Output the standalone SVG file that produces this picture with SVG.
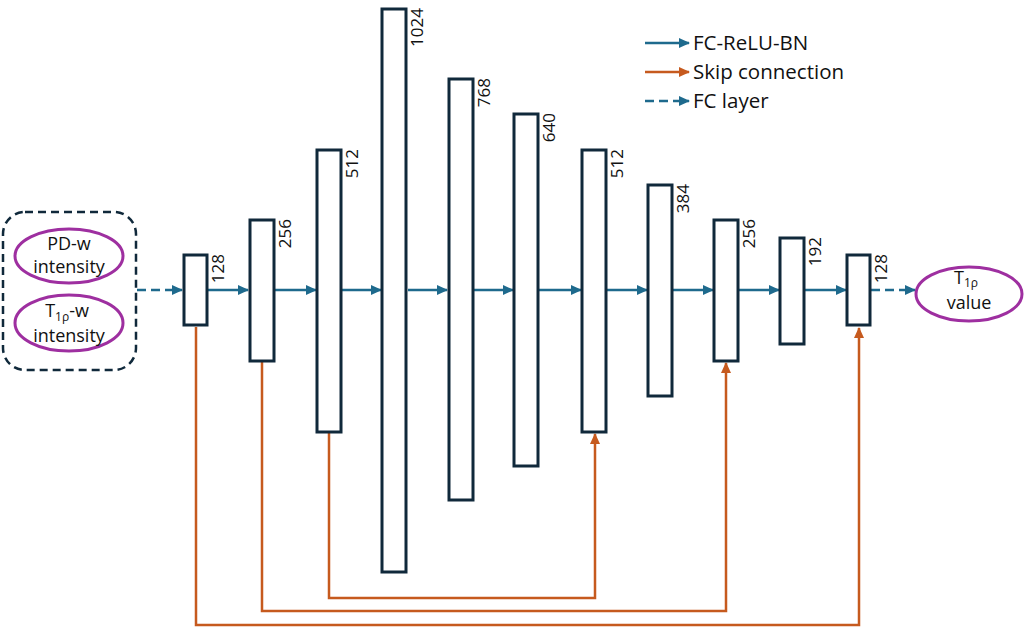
<svg xmlns="http://www.w3.org/2000/svg" width="1024" height="627" viewBox="0 0 1024 627">
<defs>
<style>
.bar{fill:#fff;stroke:#10293b;stroke-width:3}
.lbl{font-family:"Open Sans","Liberation Sans",sans-serif;font-size:17px;fill:#111}
.txt{font-family:"Open Sans","Liberation Sans",sans-serif;font-size:18px;fill:#111;text-anchor:middle}
.leg{font-family:"Open Sans","Liberation Sans",sans-serif;font-size:20.5px;fill:#111}
.blue{stroke:#1e6a8d;stroke-width:2.5;fill:none;marker-end:url(#ab)}
.dash{stroke:#1e6a8d;stroke-width:2.5;fill:none;stroke-dasharray:9 5;marker-end:url(#ab)}
.skip{stroke:#c65a1e;stroke-width:2.5;fill:none;marker-end:url(#ao)}
.ell{fill:#fff;stroke:#9e2fa0;stroke-width:3}
</style>
<marker id="ab" markerUnits="userSpaceOnUse" markerWidth="11" markerHeight="10" refX="10" refY="5" orient="auto"><path d="M0,0 L11,5 L0,10 z" fill="#1e6a8d"/></marker>
<marker id="ao" markerUnits="userSpaceOnUse" markerWidth="11" markerHeight="10" refX="10" refY="5" orient="auto"><path d="M0,0 L11,5 L0,10 z" fill="#c65a1e"/></marker>
</defs>
<rect width="1024" height="627" fill="#fff"/>

<g id="connectors">
<line class="dash" x1="137" y1="290" x2="182" y2="290"/>
<line class="blue" x1="208" y1="290" x2="248" y2="290"/>
<line class="blue" x1="275" y1="290" x2="316" y2="290"/>
<line class="blue" x1="342" y1="290" x2="381" y2="290"/>
<line class="blue" x1="408" y1="290" x2="447" y2="290"/>
<line class="blue" x1="474" y1="290" x2="513" y2="290"/>
<line class="blue" x1="539" y1="290" x2="581" y2="290"/>
<line class="blue" x1="607" y1="290" x2="647" y2="290"/>
<line class="blue" x1="673" y1="290" x2="713" y2="290"/>
<line class="blue" x1="739" y1="290" x2="779" y2="290"/>
<line class="blue" x1="805" y1="290" x2="846" y2="290"/>
<line class="dash" x1="871" y1="290" x2="915" y2="290"/>
<polyline class="skip" points="196,327 196,625 859,625 859,328"/>
<polyline class="skip" points="262,362 262,611 726,611 726,363"/>
<polyline class="skip" points="329,433 329,598 595,598 595,434"/>
</g>

<g id="input">
<rect x="3" y="212" width="133" height="158" rx="22" fill="none" stroke="#10293b" stroke-width="2.5" stroke-dasharray="8 5"/>
<ellipse class="ell" cx="69" cy="256" rx="54" ry="27"/>
<text class="txt" x="69" y="250">PD-w</text>
<text class="txt" x="69" y="273">intensity</text>
<ellipse class="ell" cx="69" cy="323" rx="54" ry="28"/>
<text class="txt" x="67" y="317">T<tspan font-size="12" dy="4">1ρ</tspan><tspan dy="-4">-w</tspan></text>
<text class="txt" x="69" y="342">intensity</text>
</g>

<g id="bar1"><rect class="bar" x="184" y="255" width="23" height="70"/><text class="lbl" x="224" y="254" text-anchor="end" transform="rotate(-90 224 254)">128</text></g>
<g id="bar2"><rect class="bar" x="250" y="220" width="24" height="141"/><text class="lbl" x="291" y="219" text-anchor="end" transform="rotate(-90 291 219)">256</text></g>
<g id="bar3"><rect class="bar" x="317" y="150" width="24" height="282"/><text class="lbl" x="358" y="149" text-anchor="end" transform="rotate(-90 358 149)">512</text></g>
<g id="bar4"><rect class="bar" x="382" y="9" width="24" height="563"/><text class="lbl" x="423" y="8" text-anchor="end" transform="rotate(-90 423 8)">1024</text></g>
<g id="bar5"><rect class="bar" x="449" y="79" width="24" height="421"/><text class="lbl" x="490" y="78" text-anchor="end" transform="rotate(-90 490 78)">768</text></g>
<g id="bar6"><rect class="bar" x="514" y="114" width="24" height="352"/><text class="lbl" x="555" y="113" text-anchor="end" transform="rotate(-90 555 113)">640</text></g>
<g id="bar7"><rect class="bar" x="582" y="150" width="24" height="282"/><text class="lbl" x="623" y="149" text-anchor="end" transform="rotate(-90 623 149)">512</text></g>
<g id="bar8"><rect class="bar" x="648" y="185" width="24" height="211"/><text class="lbl" x="689" y="184" text-anchor="end" transform="rotate(-90 689 184)">384</text></g>
<g id="bar9"><rect class="bar" x="714" y="220" width="24" height="141"/><text class="lbl" x="755" y="219" text-anchor="end" transform="rotate(-90 755 219)">256</text></g>
<g id="bar10"><rect class="bar" x="780" y="238" width="24" height="106"/><text class="lbl" x="821" y="237" text-anchor="end" transform="rotate(-90 821 237)">192</text></g>
<g id="bar11"><rect class="bar" x="847" y="255" width="23" height="70"/><text class="lbl" x="887" y="254" text-anchor="end" transform="rotate(-90 887 254)">128</text></g>

<g id="output">
<ellipse class="ell" cx="969" cy="294" rx="53" ry="27"/>
<text class="txt" x="966" y="284">T<tspan font-size="12" dy="3">1ρ</tspan></text>
<text class="txt" x="969" y="309">value</text>
</g>

<g id="legend">
<line class="blue" x1="645" y1="43" x2="689" y2="43"/>
<text class="leg" x="693" y="50">FC-ReLU-BN</text>
<line class="skip" x1="645" y1="72" x2="689" y2="72"/>
<text class="leg" x="693" y="79">Skip connection</text>
<line class="dash" x1="645" y1="101" x2="689" y2="101"/>
<text class="leg" x="693" y="108">FC layer</text>
</g>
</svg>
